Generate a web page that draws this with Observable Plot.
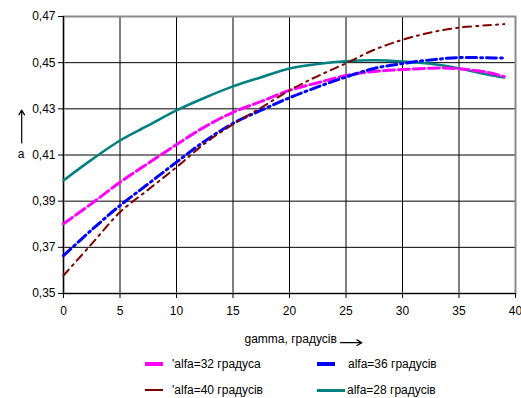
<!DOCTYPE html>
<html>
<head>
<meta charset="utf-8">
<script src="https://cdn.jsdelivr.net/npm/d3@7"></script>
<script src="https://cdn.jsdelivr.net/npm/@observablehq/plot@0.6"></script>
<style>
  body { margin: 0; background: #fff; font-family: "Liberation Sans", Arial, sans-serif; }
  #wrap { position: relative; width: 521px; height: 398px; }
  #legend { position: absolute; left: 0; top: 350px; width: 521px; height: 48px; font-size: 12px; color: #000; }
  .item { position: absolute; display: flex; align-items: center; white-space: nowrap; }
  .sw { display: inline-block; margin-right: 9px; }
</style>
</head>
<body>
<div id="wrap"></div>
<script>
// ---- data ----
const gamma  = [0, 2.5, 5, 7.5, 10, 12.5, 15, 17.5, 20, 22.5, 25, 27.5, 30, 32.5, 35, 37.5, 39];
const alfa32 = [0.3802, 0.3890, 0.3982, 0.4064, 0.4145, 0.4222, 0.4285, 0.4332, 0.4380, 0.4413, 0.4444, 0.4462, 0.4470, 0.4476, 0.4474, 0.4458, 0.4440];
const alfa36 = [0.3664, 0.3776, 0.3881, 0.3975, 0.4069, 0.4160, 0.4237, 0.4294, 0.4348, 0.4395, 0.4438, 0.4475, 0.4496, 0.4512, 0.4522, 0.4521, 0.4520];
const alfa40 = [0.3578, 0.3715, 0.3852, 0.3950, 0.4047, 0.4150, 0.4233, 0.4305, 0.4380, 0.4442, 0.4497, 0.4556, 0.4599, 0.4631, 0.4652, 0.4662, 0.4667];
const alfa28 = [0.3990, 0.4080, 0.4163, 0.4228, 0.4293, 0.4348, 0.4397, 0.4437, 0.4475, 0.4494, 0.4506, 0.4510, 0.4505, 0.4495, 0.4475, 0.4449, 0.4436];
const xTicks = [0, 5, 10, 15, 20, 25, 30, 35, 40];
const yTicks = [0.35, 0.37, 0.39, 0.41, 0.43, 0.45, 0.47];
const seriesNames = ["alfa=32 градуса", "alfa=36 градусів", "alfa=40 градусів", "alfa=28 градусів"];
const seriesColors = ["#ff00ff", "#0000ff", "#800000", "#008080"];
const xLabel = "gamma, градусів";
const yLabel = "a";

const mk = (vals) => gamma.map((g, i) => ({x: g, y: vals[i]}));
const s32 = mk(alfa32), s36 = mk(alfa36), s40 = mk(alfa40), s28 = mk(alfa28);

const fmt = d => d.toFixed(2).replace(".", ",");

const chart = Plot.plot({
  width: 521,
  height: 350,
  marginLeft: 63,
  marginRight: 6,
  marginTop: 16,
  marginBottom: 57,
  style: {fontFamily: "Liberation Sans, Arial, sans-serif", fontSize: "12px", color: "#000", background: "#fff"},
  x: {domain: [0, 40]},
  y: {domain: [0.35, 0.47]},
  marks: [
    Plot.gridX(xTicks, {stroke: "#000", strokeOpacity: 1, strokeWidth: 1}),
    Plot.gridY(yTicks, {stroke: "#000", strokeOpacity: 1, strokeWidth: 1}),
    Plot.frame({stroke: "#8a8a8a", strokeWidth: 2}),
    Plot.ruleX([0], {stroke: "#000", strokeWidth: 1.2}),
    Plot.ruleY([0.35], {stroke: "#000", strokeWidth: 1.2}),
    Plot.axisX(xTicks, {tickSize: 5, tickPadding: 8, label: null, fontSize: 12, stroke: "#000"}),
    Plot.axisY(yTicks, {tickSize: 5, tickPadding: 3, tickFormat: fmt, label: null, fontSize: 12, stroke: "#000"}),
    Plot.line(s28, {x: "x", y: "y", stroke: seriesColors[3], strokeWidth: 2.5, curve: "catmull-rom"}),
    Plot.line(s32, {x: "x", y: "y", stroke: seriesColors[0], strokeWidth: 3, strokeDasharray: "11,4", curve: "catmull-rom"}),
    Plot.line(s36, {x: "x", y: "y", stroke: seriesColors[1], strokeWidth: 3, strokeDasharray: "10,4,2,4", curve: "catmull-rom"}),
    Plot.line(s40, {x: "x", y: "y", stroke: seriesColors[2], strokeWidth: 2, strokeDasharray: "8,5,2,5", curve: "catmull-rom"}),
    Plot.text([xLabel], {frameAnchor: "bottom", dy: 49, x: () => 20.1, text: d => d, fontSize: 12}),
    Plot.arrow([{x1: 24.5, x2: 26.4, y1: 0.3287, y2: 0.3287}], {x1: "x1", x2: "x2", y1: "y1", y2: "y2", stroke: "#000", strokeWidth: 1.2, headLength: 7, clip: false}),
    Plot.text([yLabel], {x: () => -3.75, y: () => 0.4104, text: d => d, fontSize: 12}),
    Plot.arrow([{x1: -3.7, x2: -3.7, y1: 0.4152, y2: 0.4295}], {x1: "x1", x2: "x2", y1: "y1", y2: "y2", stroke: "#000", strokeWidth: 1.2, headLength: 7, clip: false})
  ]
});
document.getElementById("wrap").appendChild(chart);

// legend
const legend = document.createElement("div");
legend.id = "legend";
const items = [
  {i: 0, left: 145, top: 6, w: 18, h: 4, pre: "'"},
  {i: 1, left: 317, top: 6, w: 18, h: 4, pre: ""},
  {i: 2, left: 145, top: 32, w: 18, h: 2, pre: "'"},
  {i: 3, left: 317, top: 32, w: 28, h: 3, pre: ""}
];
items.forEach(it => {
  const d = document.createElement("div");
  d.className = "item";
  d.style.left = it.left + "px";
  d.style.top = it.top + "px";
  d.style.height = "16px";
  const sw = document.createElement("span");
  sw.className = "sw";
  sw.style.width = it.w + "px";
  sw.style.height = it.h + "px";
  sw.style.background = seriesColors[it.i];
  sw.style.marginRight = it.i === 3 ? "2px" : (it.i === 1 ? "13px" : "9px");
  d.appendChild(sw);
  const t = document.createElement("span");
  t.textContent = it.pre + seriesNames[it.i];
  d.appendChild(t);
  legend.appendChild(d);
});
document.getElementById("wrap").appendChild(legend);
</script>
</body>
</html>
